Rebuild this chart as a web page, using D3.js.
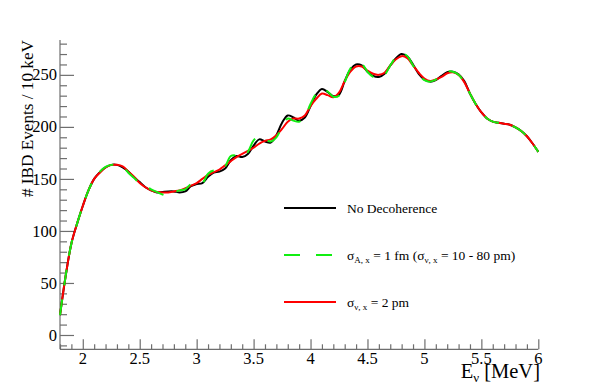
<!DOCTYPE html>
<html>
<head>
<meta charset="utf-8">
<script src="https://cdn.jsdelivr.net/npm/d3@7"></script>
<style>
  html, body { margin: 0; padding: 0; background: #fff; }
  svg { display: block; }
  text { font-family: "Liberation Serif", "DejaVu Serif", serif; fill: #000; }
</style>
</head>
<body>
<svg id="chart" width="599" height="388"></svg>
<script>
// ---- data ----
const energies = d3.range(0, 85).map(i => +(1.8 + i * 0.05).toFixed(2)); // 1.80 ... 6.00 MeV

const noDecoherence = [
  19, 57, 88, 107, 124, 139, 150, 156.5, 161, 163.5,
  163.5, 161, 157, 151.5, 147, 142, 139, 137, 137.5, 138,
  138, 137, 138, 143, 145, 146, 152, 156, 157, 160,
  168, 172, 171, 174, 182, 188, 186, 185, 192, 204,
  211, 209, 206, 209, 220, 231, 236.5, 233.5, 229.5, 231,
  244, 255, 260, 259, 253, 249, 248, 251, 259, 266,
  270, 267.5, 260, 251, 245.5, 243.5, 245, 249, 252.5, 253,
  250.5, 244, 232, 222, 214, 208, 205, 204, 203, 202,
  199.5, 196, 191, 184, 176
];

const sigmaA1fm = [
  19, 57, 88, 107, 124, 139, 150, 157, 161.5, 163.5,
  163.5, 162, 156, 151, 146, 143, 140, 137.5, 135, 134,
  137, 139, 140, 145, 146, 146, 155, 158, 157, 162,
  172, 172.5, 171, 176, 187, 190.5, 188, 186, 190, 200,
  208, 206, 205, 210, 222, 232, 236.5, 234, 229, 230,
  243, 256, 261, 260.5, 253, 248, 247, 250, 259, 267,
  271, 268, 259, 250, 245, 243.5, 245.5, 249, 253, 253,
  250, 243, 232, 222, 214, 208, 205, 204, 203, 202,
  199.5, 196, 191, 184, 176
];

const sigmaV2pm = [
  19, 57, 88, 107, 124, 139, 150, 156, 161, 163.5,
  163.5, 162, 157, 152, 146, 142, 139, 137.5, 137, 137,
  138, 139, 141, 143.5, 146, 150, 154, 156.5, 159, 163,
  167, 171, 174, 177, 180, 184, 186.5, 188, 192, 198,
  205, 208, 208, 211, 220, 227, 232, 230.5, 228.5, 233,
  244, 253, 258, 258, 254, 251, 250, 252, 259, 265,
  268, 266, 259, 252, 246.5, 244, 245.5, 248, 251.5, 252.5,
  250, 243, 232, 222, 214, 208, 205, 204, 203, 202,
  199.5, 196, 191, 184, 176
];

const xMajorTicks = [2, 2.5, 3, 3.5, 4, 4.5, 5, 5.5, 6];
const xTickLabels = ["2", "2.5", "3", "3.5", "4", "4.5", "5", "5.5", "6"];
const yMajorTicks = [0, 50, 100, 150, 200, 250];
const yTickLabels = ["0", "50", "100", "150", "200", "250"];

const seriesNames = ["No Decoherence", "sigmaA", "sigmaV"];

// ---- drawing ----
const svg = d3.select("#chart");
const plotLeft = 60, plotRight = 538.3, plotTop = 40, plotBottom = 349.3;

const x = d3.scaleLinear().domain([1.8, 6]).range([plotLeft, plotRight]);
const y = d3.scaleLinear().domain([-13.75, 283.5]).range([plotBottom, plotTop]);

const axisColor = "#6e6e6e";

// Y axis (ticks inward to the right)
const yMinor = d3.range(-10, 281, 10).filter(v => v % 50 !== 0);
const gy = svg.append("g").attr("transform", `translate(${plotLeft},0)`);
gy.call(d3.axisRight(y).tickValues(yMinor).tickSize(7).tickFormat(""));
gy.select(".domain").remove();
const gy2 = svg.append("g").attr("transform", `translate(${plotLeft},0)`);
gy2.call(d3.axisRight(y).tickValues(yMajorTicks).tickSize(14).tickFormat(""));
gy2.select(".domain").remove();

// X axis (ticks inward, upward)
const xMinor = d3.range(18, 61, 1).map(v => v / 10).filter(v => Math.abs(v * 2 - Math.round(v * 2)) > 1e-6);
const gx = svg.append("g").attr("transform", `translate(0,${plotBottom})`);
gx.call(d3.axisTop(x).tickValues(xMinor).tickSize(5).tickFormat(""));
gx.select(".domain").remove();
const gx2 = svg.append("g").attr("transform", `translate(0,${plotBottom})`);
gx2.call(d3.axisTop(x).tickValues(xMajorTicks).tickSize(10).tickFormat(""));
gx2.select(".domain").remove();
svg.selectAll("g .tick line").attr("stroke", axisColor).attr("stroke-width", 1.2);

svg.append("line").attr("x1", plotLeft).attr("x2", plotLeft).attr("y1", plotTop).attr("y2", plotBottom)
  .attr("stroke", axisColor).attr("stroke-width", 1.2);
svg.append("line").attr("x1", plotLeft).attr("x2", plotRight).attr("y1", plotBottom).attr("y2", plotBottom)
  .attr("stroke", axisColor).attr("stroke-width", 1.2);

// tick labels
svg.append("g").selectAll("text").data(yMajorTicks).join("text")
  .attr("x", 57).attr("y", d => y(d)).attr("dy", "0.34em")
  .attr("text-anchor", "end").attr("font-size", 16.5)
  .text((d, i) => yTickLabels[i]);
svg.append("g").selectAll("text").data(xMajorTicks).join("text")
  .attr("x", d => x(d)).attr("y", 363.5)
  .attr("text-anchor", "middle").attr("font-size", 16.5)
  .text((d, i) => xTickLabels[i]);

// axis titles
const xt = svg.append("text").attr("x", 540).attr("y", 377.5).attr("text-anchor", "end").attr("font-size", 20.5);
xt.append("tspan").text("E");
xt.append("tspan").attr("font-size", 13).attr("dy", 4).text("ν");
xt.append("tspan").attr("dy", -4).text(" [MeV]");

svg.append("text").attr("transform", "translate(33,40) rotate(-90)")
  .attr("text-anchor", "end").attr("font-size", 17.2)
  .text("# IBD Events / 10 keV");

// curves
const line = d3.line().x((d, i) => x(energies[i])).y(d => y(d)).curve(d3.curveCatmullRom.alpha(0.5));

svg.append("path").datum(noDecoherence).attr("d", line)
  .attr("fill", "none").attr("stroke", "#000").attr("stroke-width", 2);
svg.append("path").datum(sigmaV2pm).attr("d", line)
  .attr("fill", "none").attr("stroke", "#ff0000").attr("stroke-width", 2);
svg.append("path").datum(sigmaA1fm).attr("d", line)
  .attr("fill", "none").attr("stroke", "#11ee11").attr("stroke-width", 2)
  .attr("stroke-dasharray", "16,14");

// legend
const lg = svg.append("g");
const rows = [
  { y: 208, color: "#000", dash: null },
  { y: 255, color: "#11ee11", dash: "16,16" },
  { y: 302, color: "#ff0000", dash: null }
];
rows.forEach(r => {
  lg.append("line").attr("x1", 284).attr("x2", 336).attr("y1", r.y).attr("y2", r.y)
    .attr("stroke", r.color).attr("stroke-width", 2).attr("stroke-dasharray", r.dash);
});
const fs = 13.5, sub = 9;
lg.append("text").attr("x", 347).attr("y", 212.5).attr("font-size", fs).text(seriesNames[0]);

const t2 = lg.append("text").attr("x", 347).attr("y", 259.5).attr("font-size", fs);
t2.append("tspan").text("σ");
t2.append("tspan").attr("font-size", sub).attr("dy", 3).text("A, x");
t2.append("tspan").attr("dy", -3).text(" = 1 fm (σ");
t2.append("tspan").attr("font-size", sub).attr("dy", 3).text("ν, x");
t2.append("tspan").attr("dy", -3).text(" = 10 - 80 pm)");

const t3 = lg.append("text").attr("x", 347).attr("y", 306.5).attr("font-size", fs);
t3.append("tspan").text("σ");
t3.append("tspan").attr("font-size", sub).attr("dy", 3).text("ν, x");
t3.append("tspan").attr("dy", -3).text(" = 2 pm");
</script>
</body>
</html>
